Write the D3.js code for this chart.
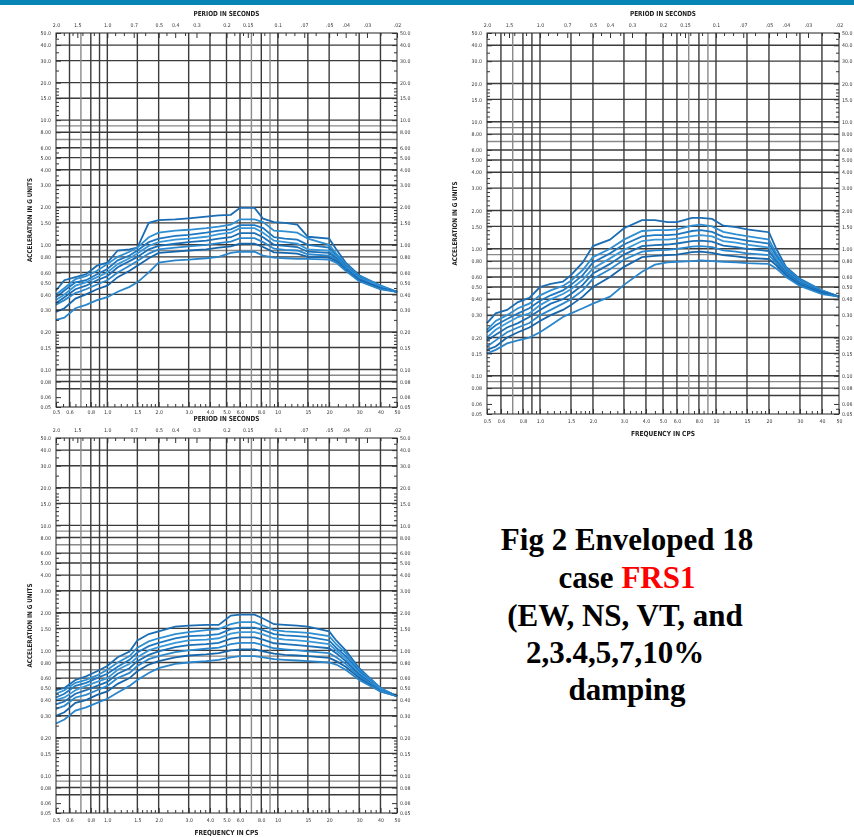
<!DOCTYPE html>
<html>
<head>
<meta charset="utf-8">
<script src="https://cdn.jsdelivr.net/npm/d3@7"></script>
<style>
body{margin:0;background:#fff;}
svg{display:block;}
</style>
</head>
<body>
<svg width="854" height="837"></svg>
<script>
// 频率节点 (Hz)
const FREQ = [0.5, 0.56, 0.65, 0.75, 0.87, 1.0, 1.15, 1.35, 1.5, 1.75, 2.0, 2.5, 3.0, 3.8, 4.5, 5.3, 6.0, 7.3, 8.2, 9.5, 11, 13, 15, 20, 22, 25, 30, 40, 50];

// 左上图 8 条包络曲线 (g)
const P1_SERIES = [
  [0.43,0.52,0.55,0.58,0.68,0.72,0.90,0.92,0.95,1.50,1.58,1.60,1.63,1.68,1.72,1.74,1.98,1.98,1.62,1.52,1.50,1.45,1.16,1.12,0.92,0.72,0.57,0.47,0.42],
  [0.40,0.45,0.53,0.56,0.62,0.70,0.80,0.88,0.95,1.15,1.25,1.30,1.32,1.36,1.40,1.45,1.60,1.60,1.52,1.30,1.28,1.25,1.12,1.00,0.85,0.70,0.56,0.47,0.42],
  [0.38,0.43,0.50,0.52,0.58,0.64,0.75,0.82,0.90,1.05,1.12,1.18,1.20,1.25,1.30,1.33,1.44,1.44,1.36,1.15,1.12,1.10,1.00,0.95,0.82,0.68,0.55,0.46,0.42],
  [0.36,0.40,0.47,0.50,0.55,0.60,0.70,0.78,0.85,0.98,1.05,1.10,1.12,1.16,1.22,1.25,1.36,1.36,1.25,1.08,1.05,1.02,0.92,0.90,0.80,0.66,0.54,0.46,0.42],
  [0.34,0.38,0.44,0.47,0.52,0.56,0.66,0.74,0.80,0.92,0.98,1.02,1.05,1.08,1.12,1.15,1.24,1.24,1.15,1.00,0.98,0.96,0.88,0.86,0.78,0.65,0.53,0.45,0.42],
  [0.33,0.36,0.41,0.44,0.48,0.52,0.60,0.68,0.74,0.85,0.92,0.95,0.97,1.00,1.03,1.06,1.13,1.13,1.05,0.93,0.91,0.90,0.84,0.82,0.76,0.64,0.52,0.45,0.42],
  [0.29,0.31,0.37,0.40,0.44,0.47,0.55,0.62,0.68,0.78,0.86,0.88,0.90,0.92,0.95,0.97,1.02,1.02,0.96,0.87,0.86,0.85,0.80,0.79,0.74,0.63,0.52,0.45,0.42],
  [0.25,0.26,0.31,0.33,0.36,0.38,0.42,0.46,0.50,0.60,0.72,0.75,0.76,0.78,0.80,0.86,0.88,0.88,0.82,0.79,0.78,0.77,0.77,0.76,0.72,0.62,0.51,0.44,0.42]
];

// 右上图
const P2_SERIES = [
  [0.26,0.31,0.33,0.38,0.41,0.50,0.53,0.55,0.62,0.78,1.05,1.18,1.45,1.68,1.68,1.62,1.62,1.75,1.75,1.72,1.52,1.48,1.42,1.35,1.00,0.72,0.58,0.47,0.42],
  [0.23,0.27,0.30,0.34,0.37,0.43,0.47,0.51,0.56,0.68,0.86,1.00,1.18,1.38,1.40,1.40,1.42,1.52,1.55,1.50,1.36,1.30,1.26,1.18,0.92,0.70,0.57,0.47,0.42],
  [0.22,0.25,0.28,0.31,0.34,0.39,0.43,0.47,0.52,0.62,0.78,0.92,1.08,1.25,1.28,1.28,1.30,1.38,1.40,1.36,1.24,1.20,1.16,1.10,0.88,0.68,0.56,0.46,0.42],
  [0.20,0.23,0.26,0.29,0.31,0.36,0.40,0.44,0.48,0.57,0.70,0.84,0.98,1.15,1.18,1.18,1.20,1.26,1.28,1.25,1.15,1.12,1.08,1.02,0.84,0.66,0.55,0.46,0.42],
  [0.19,0.21,0.24,0.26,0.29,0.33,0.37,0.40,0.44,0.52,0.64,0.76,0.90,1.05,1.07,1.08,1.10,1.15,1.16,1.14,1.06,1.03,1.00,0.96,0.80,0.65,0.54,0.46,0.42],
  [0.17,0.19,0.22,0.24,0.26,0.30,0.33,0.37,0.40,0.47,0.58,0.69,0.82,0.95,0.97,0.98,1.00,1.04,1.05,1.03,0.97,0.95,0.92,0.89,0.77,0.63,0.53,0.45,0.42],
  [0.16,0.17,0.20,0.22,0.24,0.27,0.30,0.33,0.36,0.42,0.50,0.60,0.72,0.86,0.88,0.89,0.90,0.94,0.95,0.93,0.89,0.87,0.85,0.83,0.74,0.62,0.52,0.45,0.42],
  [0.15,0.16,0.18,0.19,0.20,0.22,0.25,0.29,0.31,0.34,0.37,0.42,0.52,0.66,0.75,0.78,0.79,0.80,0.81,0.80,0.79,0.78,0.77,0.76,0.70,0.60,0.51,0.44,0.42]
];

// 左下图
const P3_SERIES = [
  [0.48,0.50,0.58,0.62,0.68,0.75,0.88,0.98,1.20,1.35,1.42,1.55,1.58,1.60,1.60,1.90,1.93,1.93,1.80,1.62,1.60,1.58,1.55,1.42,1.20,1.00,0.72,0.50,0.43],
  [0.45,0.48,0.55,0.58,0.63,0.70,0.80,0.90,1.05,1.18,1.25,1.35,1.40,1.45,1.48,1.62,1.68,1.68,1.58,1.45,1.42,1.40,1.38,1.30,1.12,0.95,0.70,0.50,0.43],
  [0.42,0.45,0.52,0.55,0.60,0.65,0.74,0.84,0.96,1.08,1.15,1.25,1.30,1.32,1.35,1.48,1.52,1.52,1.45,1.35,1.32,1.30,1.28,1.20,1.05,0.90,0.68,0.49,0.43],
  [0.40,0.42,0.48,0.52,0.56,0.60,0.70,0.78,0.88,1.00,1.06,1.15,1.20,1.22,1.25,1.36,1.40,1.40,1.34,1.25,1.22,1.20,1.18,1.12,1.00,0.86,0.66,0.49,0.43],
  [0.37,0.39,0.45,0.48,0.52,0.56,0.65,0.72,0.82,0.92,0.98,1.06,1.10,1.12,1.15,1.24,1.27,1.27,1.22,1.14,1.12,1.10,1.08,1.04,0.95,0.82,0.64,0.48,0.43],
  [0.34,0.36,0.42,0.44,0.48,0.52,0.60,0.66,0.75,0.85,0.90,0.97,1.00,1.03,1.05,1.12,1.15,1.15,1.10,1.04,1.02,1.00,0.98,0.95,0.88,0.78,0.62,0.48,0.43],
  [0.30,0.32,0.38,0.40,0.44,0.47,0.54,0.60,0.68,0.77,0.82,0.88,0.91,0.93,0.95,1.00,1.02,1.02,0.98,0.94,0.92,0.91,0.90,0.87,0.82,0.74,0.60,0.47,0.43],
  [0.26,0.28,0.33,0.35,0.38,0.41,0.46,0.52,0.58,0.66,0.72,0.78,0.80,0.82,0.84,0.88,0.90,0.90,0.88,0.85,0.84,0.83,0.82,0.80,0.77,0.70,0.58,0.47,0.43]
];

// 坐标刻度
const Y_TICKS = [50,40,30,20,15,10,8,6,5,4,3,2,1.5,1,0.8,0.6,0.5,0.4,0.3,0.2,0.15,0.1,0.08,0.06,0.05];
const Y_LABELS = ["50.0","40.0","30.0","20.0","15.0","10.0","8.00","6.00","5.00","4.00","3.00","2.00","1.50","1.00","0.80","0.60","0.50","0.40","0.30","0.20","0.15","0.10","0.08","0.06","0.05"];
const Y_GRID = [40,30,20,15,10,9,8,7,6,5,4,3,2,1.5,1,0.9,0.8,0.7,0.6,0.5,0.4,0.3,0.2,0.15,0.1,0.09,0.08,0.07];
const Y_MINOR = [45,35,25,18,17,16,14,13,12,11,5.5,4.5,3.6,3.3,2.8,2.6,2.4,2.2,1.9,1.8,1.7,1.6,1.4,1.3,1.2,1.1,
                 0.45,0.35,0.25,0.19,0.18,0.17,0.16,0.14,0.13,0.12,0.11,0.055];
const X_TICKS = [0.5,0.6,0.8,1,1.5,2,3,4,5,6,8,10,15,20,30,40,50];
const X_LABELS = ["0.5","0.6","0.8","1.0","1.5","2.0","3.0","4.0","5.0","6.0","8.0","10","15","20","30","40","50"];
const X_GRID = [0.6,0.7,0.8,0.9,1,1.5,2,3,4,5,6,7,8,9,10,15,20,30,40];
const X_MINOR = [0.55,0.65,0.75,0.85,0.95,1.1,1.2,1.3,1.4,1.6,1.7,1.8,1.9,2.25,2.5,2.75,3.25,3.5,3.75,4.5,5.5,6.5,7.5,8.5,9.5,
                 11,12,13,14,16,17,18,19,22.5,25,27.5,32.5,35,37.5,45];
const PERIOD_TICKS = [2.0,1.5,1.0,0.7,0.5,0.4,0.3,0.2,0.15,0.1,0.07,0.05,0.04,0.03,0.02];
const PERIOD_LABELS = ["2.0","1.5","1.0","0.7","0.5","0.4","0.3","0.2","0.15","0.1",".07",".05",".04",".03",".02"];
const PERIOD_MINOR = [1.8,1.6,1.4,1.2,0.9,0.8,0.6,0.45,0.35,0.25,0.18,0.16,0.14,0.12,0.09,0.08,0.06,0.045,0.035,0.025];

const COLORS = ['#1a6db3','#2f8fd2','#1f79c2','#3997d8','#1b70b7','#2b88ce','#1766ac','#2a85ca'];
const FONT = '"DejaVu Sans Condensed","Liberation Sans",sans-serif';

let svg = d3.select('svg');
let defs = svg.append('defs');
defs.append('filter').attr('id','soft')
    .append('feGaussianBlur').attr('stdDeviation',0.35);

//顶部蓝条
svg.append('rect').attr('x',0).attr('y',0).attr('width',854).attr('height',5).attr('fill','#0786b6');

function drawPanel(p, series){
    let g = svg.append('g').attr('filter','url(#soft)');
    let x = d3.scaleLog().domain([0.5,50]).range([p.left,p.right]);
    let xp = d3.scaleLog().domain([2,0.02]).range([p.left,p.right]);
    let y = d3.scaleLog().domain([0.05,50]).range([p.bottom,p.top]);

    //网格
    g.append('g').selectAll('line').data(Y_GRID).enter().append('line')
        .attr('x1',p.left).attr('x2',p.right)
        .attr('y1',d=>y(d)).attr('y2',d=>y(d))
        .attr('stroke',d=>[9,0.9,0.09,7,0.7].includes(d)?'#8a8a8a':'#3a3a3a')
        .attr('stroke-width',1.4);
    g.append('g').selectAll('line').data(X_GRID).enter().append('line')
        .attr('y1',p.top).attr('y2',p.bottom)
        .attr('x1',d=>x(d)).attr('x2',d=>x(d))
        .attr('stroke',d=>[7,9,0.7].includes(d)?'#8a8a8a':'#3a3a3a')
        .attr('stroke-width',1.4);

    //曲线
    let line = d3.line().x((d,i)=>x(FREQ[i])).y(d=>y(d));
    g.append('g').selectAll('path').data(series).enter().append('path')
        .attr('d',line)
        .attr('fill','none')
        .attr('stroke',(d,i)=>COLORS[i%COLORS.length])
        .attr('stroke-width',1.8);

    //边框
    g.append('rect').attr('x',p.left).attr('y',p.top)
        .attr('width',p.right-p.left).attr('height',p.bottom-p.top)
        .attr('fill','none').attr('stroke','#222').attr('stroke-width',1);

    function clean(sel){
        sel.select('.domain').remove();
        sel.attr('font-family',FONT).attr('font-size',5.2);
        sel.selectAll('text').attr('fill','#333');
        sel.selectAll('line').attr('stroke','#333');
    }
    //左右轴
    g.append('g').attr('transform',`translate(${p.left},0)`)
        .call(d3.axisLeft(y).tickValues(Y_TICKS).tickFormat((d,i)=>Y_LABELS[i]).tickSize(-5).tickPadding(5)).call(clean);
    g.append('g').attr('transform',`translate(${p.left},0)`)
        .call(d3.axisLeft(y).tickValues(Y_MINOR).tickFormat('').tickSize(-3)).call(clean);
    g.append('g').attr('transform',`translate(${p.right},0)`)
        .call(d3.axisRight(y).tickValues(Y_TICKS).tickFormat((d,i)=>Y_LABELS[i]).tickSize(-5).tickPadding(3)).call(clean);
    g.append('g').attr('transform',`translate(${p.right},0)`)
        .call(d3.axisRight(y).tickValues(Y_MINOR).tickFormat('').tickSize(-3)).call(clean);
    //频率轴
    g.append('g').attr('transform',`translate(0,${p.bottom})`)
        .call(d3.axisBottom(x).tickValues(X_TICKS).tickFormat((d,i)=>X_LABELS[i]).tickSize(-5).tickPadding(p.freqPad)).call(clean);
    g.append('g').attr('transform',`translate(0,${p.bottom})`)
        .call(d3.axisBottom(x).tickValues(X_MINOR).tickFormat('').tickSize(-3)).call(clean);
    //周期轴
    g.append('g').attr('transform',`translate(0,${p.top})`)
        .call(d3.axisTop(xp).tickValues(PERIOD_TICKS).tickFormat((d,i)=>PERIOD_LABELS[i]).tickSize(-5).tickPadding(6)).call(clean);
    g.append('g').attr('transform',`translate(0,${p.top})`)
        .call(d3.axisTop(xp).tickValues(PERIOD_MINOR).tickFormat('').tickSize(-3)).call(clean);

    //标题
    let cx = (p.left+p.right)/2;
    g.append('text').attr('x',cx).attr('y',p.top-17)
        .attr('text-anchor','middle').attr('font-family',FONT).attr('font-size',7).attr('font-weight','bold')
        .attr('fill','#222').attr('textLength',66).attr('lengthAdjust','spacingAndGlyphs')
        .text('PERIOD IN SECONDS');
    if(p.freqTitle){
        g.append('text').attr('x',cx).attr('y',p.bottom+22)
            .attr('text-anchor','middle').attr('font-family',FONT).attr('font-size',7).attr('font-weight','bold')
            .attr('fill','#222').attr('textLength',64).attr('lengthAdjust','spacingAndGlyphs')
            .text('FREQUENCY IN CPS');
    }
    g.append('text')
        .attr('transform',`translate(${p.yTitleX},${(p.top+p.bottom)/2}) rotate(-90)`)
        .attr('text-anchor','middle').attr('font-family',FONT).attr('font-size',6.5).attr('font-weight','bold')
        .attr('fill','#222').attr('textLength',84).attr('lengthAdjust','spacingAndGlyphs')
        .text('ACCELERATION IN G UNITS');
}

drawPanel({left:56,right:397,top:33,bottom:407,yTitleX:32,freqTitle:false,freqPad:3},P1_SERIES);
drawPanel({left:487,right:839,top:33,bottom:414,yTitleX:457,freqTitle:true,freqPad:5},P2_SERIES);
drawPanel({left:56,right:397,top:438,bottom:813,yTitleX:32,freqTitle:true,freqPad:5},P3_SERIES);

//说明文字
let caption = svg.append('g')
    .attr('font-family','"Liberation Serif","Times New Roman",serif')
    .attr('font-weight','bold').attr('font-size',31).attr('fill','#000')
    .attr('text-anchor','middle');
caption.append('text').attr('x',627).attr('y',550).text('Fig 2 Enveloped 18');
let t2 = caption.append('text').attr('x',627).attr('y',588);
t2.append('tspan').text('case ');
t2.append('tspan').attr('fill','#ff0000').text('FRS1');
caption.append('text').attr('x',625).attr('y',626).text('(EW, NS, VT, and');
caption.append('text').attr('x',615).attr('y',663).text('2,3.4,5,7,10%');
caption.append('text').attr('x',627).attr('y',700).text('damping');
</script>
</body>
</html>
